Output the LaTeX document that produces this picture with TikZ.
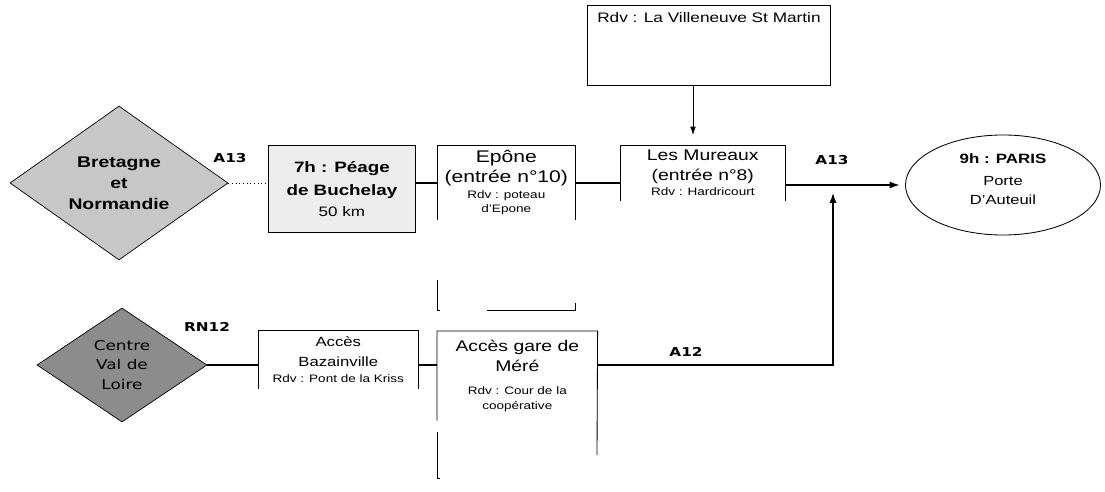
\documentclass[tikz,border=0pt]{standalone}
\usepackage{fontspec}
\setmainfont{Liberation Sans}[FakeStretch=1.25]
\newfontfamily\roadfont{DejaVu Sans}[FakeStretch=1.25]
\usetikzlibrary{shapes.geometric,arrows.meta,positioning}

\newcommand{\bigtxt}[1]{\fontsize{#1}{14.5}\selectfont}
\newcommand{\smalltxt}{\fontsize{7.7}{14.5}\selectfont}

\tikzset{
  stopbox/.style={anchor=north west, inner xsep=0pt, inner ysep=1.5pt, align=center},
  region/.style={diamond, draw, inner sep=0pt, align=center, line width=0.5pt},
  road/.style={line width=0.8pt},
  roadname/.style={font=\roadfont\bfseries\fontsize{8.7}{10}\selectfont, inner sep=0pt},
  outline/.style={line width=0.6pt}
}

\begin{document}
\begin{tikzpicture}[x=0.025cm,y=-0.025cm]
  \useasboundingbox (0,0) rectangle (1105,492);

  %draw regions
  \node[region, fill=black!22, minimum width=5.45cm, minimum height=2.8cm,
        font=\bigtxt{11}\bfseries] (bretagne) at (119,183)
    {Bretagne\\[0.5pt]et\\[0.5pt]Normandie};
  \node[region, fill=black!45, minimum width=4.25cm, minimum height=2.85cm,
        font=\roadfont\fontsize{9.6}{14}\selectfont] (centre) at (122,365)
    {Centre\\Val de\\Loire};

  %draw top row
  \node[stopbox, draw, outline, fill=black!7, minimum width=3.675cm, minimum height=2.175cm,
        font=\fontsize{10.7}{16}\selectfont\bfseries] (peage) at (268,145)
    {7h : P\'eage\\de Buchelay\\[-1pt]\mdseries\fontsize{9.7}{16}\selectfont 50 km};
  \node[stopbox, inner ysep=3.5pt, minimum width=3.45cm, minimum height=1.75cm, font=\bigtxt{12}] (epone) at (437,145)
    {Ep\^one\\(entr\'ee n\textdegree10)\\[-3.5pt]\smalltxt Rdv : poteau\\[-4.2pt]\smalltxt d'Epone};
  \node[stopbox, inner ysep=3pt, minimum width=4.125cm, minimum height=1.375cm, font=\bigtxt{11}] (mureaux) at (620,145)
    {Les Mureaux\\(entr\'ee n\textdegree8)\\[-3.5pt]\smalltxt Rdv : Hardricourt};
  \node[stopbox, draw, outline, minimum width=6.075cm, minimum height=2cm] (villeneuve) at (587,5) {};
  \node[below=5pt of villeneuve.north, inner sep=0pt, font=\bigtxt{9.8}] (rdvtext)
    {Rdv : La Villeneuve St Martin};
  \node[ellipse, draw, outline, inner sep=0pt, align=center, minimum width=4.875cm, minimum height=2.5cm,
        font=\bigtxt{9.4}] (paris) at (1003,185)
    {\bfseries\fontsize{9.6}{14.5}\selectfont 9h : PARIS\\[1pt]Porte\\[-1pt]D'Auteuil\\[-6pt]};

  %draw bottom row
  \node[stopbox, minimum width=4cm, minimum height=1.45cm, font=\bigtxt{9.5}] (bazain) at (258,330)
    {Acc\`es\\Bazainville\\[-3.5pt]\smalltxt Rdv : Pont de la Kriss};
  \node[stopbox, minimum width=4cm, minimum height=2.225cm, font=\bigtxt{11}] (mere) at (437,331)
    {Acc\`es gare de\\M\'er\'e\\[2pt]\smalltxt Rdv : Cour de la\\[-4.2pt]\smalltxt coop\'erative};

  %draw open box outlines
  \draw[outline] (epone.south west) |- (epone.north east) -- (epone.south east);
  \draw[outline] (437,280) -- (437,310) -- (440,310);
  \draw[outline] (487,310) -- (575,310) -- (575,303);
  \draw[outline] (mureaux.south west) |- (mureaux.north east) -- (mureaux.south east);
  \draw[outline] (bazain.south west) |- (bazain.north east) -- (bazain.south east);
  \draw[outline] (mere.south west) |- (mere.north east) -- (597,455);
  \draw[outline] (437,432) -- (437,478) -- (440,478);

  %draw road labels
  \node[roadname] (a13west) at (230,158) {A13};
  \node[roadname] (a13east) at (832,160) {A13};
  \node[roadname] (rn12) at (207,327) {RN12};
  \node[roadname] (a12) at (686,352) {A12};

  %draw roads
  \coordinate (join) at (833,193);
  \draw[line width=0.6pt, dotted] (bretagne.east) -- (peage.west |- bretagne.east);
  \draw[road] (peage.east |- bretagne.east) -- (epone.west |- bretagne.east);
  \draw[road] (epone.east |- 0,183) -- (mureaux.west |- 0,183);
  \draw[road, -{Latex[length=7pt,width=5pt]}, shorten >=4pt] (mureaux.east |- paris.west) -- (paris.west);
  \draw[outline, -{Latex[length=6pt,width=4pt]}, shorten >=7pt] (villeneuve.south -| 693,0) -- (mureaux.north -| 693,0);
  \draw[road] (centre.east) -- (bazain.west |- centre.east);
  \draw[road] (bazain.east |- centre.east) -- (mere.west |- centre.east);
  \draw[road, -{Latex[length=7pt,width=5pt]}] (mere.east |- centre.east) -| (join);
\end{tikzpicture}
\end{document}
